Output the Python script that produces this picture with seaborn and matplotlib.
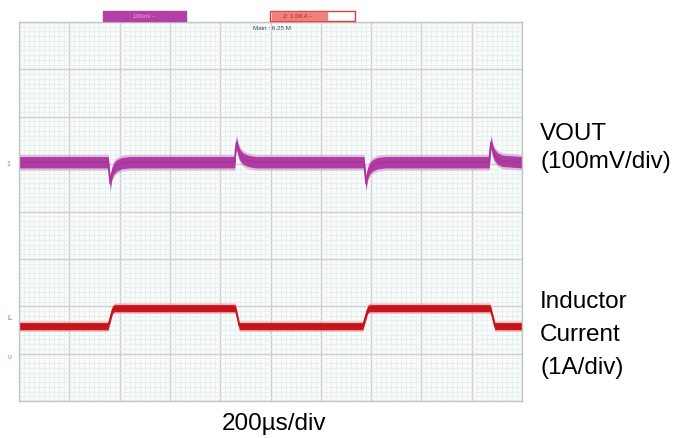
import numpy as np
import pandas as pd
import matplotlib.pyplot as plt
import seaborn as sns
from matplotlib.patches import Rectangle

# Waveform key points (time in us, level in divisions)
vout_t = [0, 355, 359, 363, 368, 376, 388, 408, 440,
          858, 861, 865, 870, 878, 890, 910, 940,
          1372, 1376, 1380, 1385, 1393, 1405, 1425, 1457,
          1870, 1873, 1877, 1882, 1890, 1902, 1922, 2000]
vout_v = [1.04, 1.04, 0.80, 0.58, 0.78, 0.90, 0.97, 1.02, 1.04,
          1.04, 1.30, 1.46, 1.32, 1.20, 1.12, 1.07, 1.04,
          1.04, 0.80, 0.58, 0.78, 0.90, 0.97, 1.02, 1.04,
          1.04, 1.30, 1.46, 1.32, 1.20, 1.12, 1.07, 1.04]

il_t = [0, 354, 372, 380, 858, 862, 876, 1367, 1386, 1394, 1872, 1876, 1892, 2000]
il_v = [-2.42, -2.42, -2.07, -2.04, -2.04, -2.08, -2.42, -2.42, -2.07, -2.04, -2.04, -2.08, -2.42, -2.42]

right_labels = ["VOUT", "(100mV/div)", "Inductor", "Current", "(1A/div)"]
time_label = "200µs/div"

sns.set_theme(style="white")
plt.rcParams['font.family'] = ['Liberation Sans', 'DejaVu Sans']

fig = plt.figure(figsize=(6.95, 4.39), dpi=100)
ax = fig.add_axes([19 / 695, 1 - 402 / 439, 503 / 695, 379 / 439])
ax.set_facecolor("#f9fbfa")

# scope graticule: 10 x 8 divisions, fine sub grid
ax.set_xlim(0, 2000)
ax.set_ylim(-4, 4)
ax.set_xticks(np.arange(0, 2001, 200))
ax.set_yticks(np.arange(-4, 5, 1))
ax.set_xticks(np.arange(0, 2001, 20), minor=True)
ax.set_yticks(np.arange(-4, 4.01, 0.1), minor=True)
ax.grid(which="minor", color="#e3eeec", linewidth=0.5)
ax.grid(which="major", color="#cfcfcf", linewidth=1.0)
ax.tick_params(which="both", length=0, labelbottom=False, labelleft=False)
for s in ax.spines.values():
    s.set_color("#c4c4c4")
    s.set_linewidth(1.0)

vout = pd.DataFrame({"t": vout_t, "v": vout_v})
il = pd.DataFrame({"t": il_t, "v": il_v})

# noisy trace band: soft outer band, solid inner band, centre line
vt, vv = np.array(vout_t), np.array(vout_v)
ax.fill_between(vt, vv - 0.17, vv + 0.17, color="#d7a6d0", alpha=0.7, linewidth=0)
ax.fill_between(vt, vv - 0.12, vv + 0.12, color="#ae3ca3", linewidth=0)
sns.lineplot(data=vout, x="t", y="v", ax=ax, color="#a8349c", linewidth=1.2,
             estimator=None, sort=False)

it, iv = np.array(il_t), np.array(il_v)
ax.fill_between(it, iv - 0.11, iv + 0.11, color="#e8a0a0", alpha=0.7, linewidth=0)
ax.fill_between(it, iv - 0.075, iv + 0.075, color="#c8161e", linewidth=0)
sns.lineplot(data=il, x="t", y="v", ax=ax, color="#c0131b", linewidth=1.0,
             estimator=None, sort=False)
ax.set_xlabel("")
ax.set_ylabel("")

# scope header boxes
fig.patches.append(Rectangle((103 / 695, 1 - 22 / 439), 83 / 695, 10 / 439,
                             transform=fig.transFigure, color="#b43fa6"))
fig.text(144 / 695, 1 - 17 / 439, "100mV ~", fontsize=4, color="#e4b8df",
         ha="center", va="center")
fig.patches.append(Rectangle((270 / 695, 1 - 22 / 439), 85 / 695, 10 / 439,
                             transform=fig.transFigure, facecolor="white",
                             edgecolor="#e03a3a", linewidth=1))
fig.patches.append(Rectangle((272 / 695, 1 - 21 / 439), 55 / 695, 8 / 439,
                             transform=fig.transFigure, color="#f08080"))
fig.text(298 / 695, 1 - 17 / 439, "2: 1.00 A ~", fontsize=4.5, color="#c01818",
         ha="center", va="center")
fig.text(272 / 695, 1 - 29 / 439, "Main : 6.25 M", fontsize=4.5, color="#444444",
         ha="center", va="center")

# channel markers on the left edge
fig.text(8 / 695, 1 - 165 / 439, "1", fontsize=5, color="#c060b0", ha="center", va="center")
fig.text(9 / 695, 1 - 319 / 439, "L", fontsize=5, color="#d03030", ha="center", va="center")
fig.text(9 / 695, 1 - 358 / 439, "υ", fontsize=5, color="#e07070", ha="center", va="center")

# channel labels on the right
label_y = [134, 162, 302, 335, 368]
for txt, y in zip(right_labels, label_y):
    fig.text(540 / 695, 1 - y / 439, txt, fontsize=17.5, color="black",
             ha="left", va="center")
fig.text(274 / 695, 1 - 424 / 439, time_label, fontsize=17.5, color="black",
         ha="center", va="center")

fig.savefig("out.png", dpi=100)
